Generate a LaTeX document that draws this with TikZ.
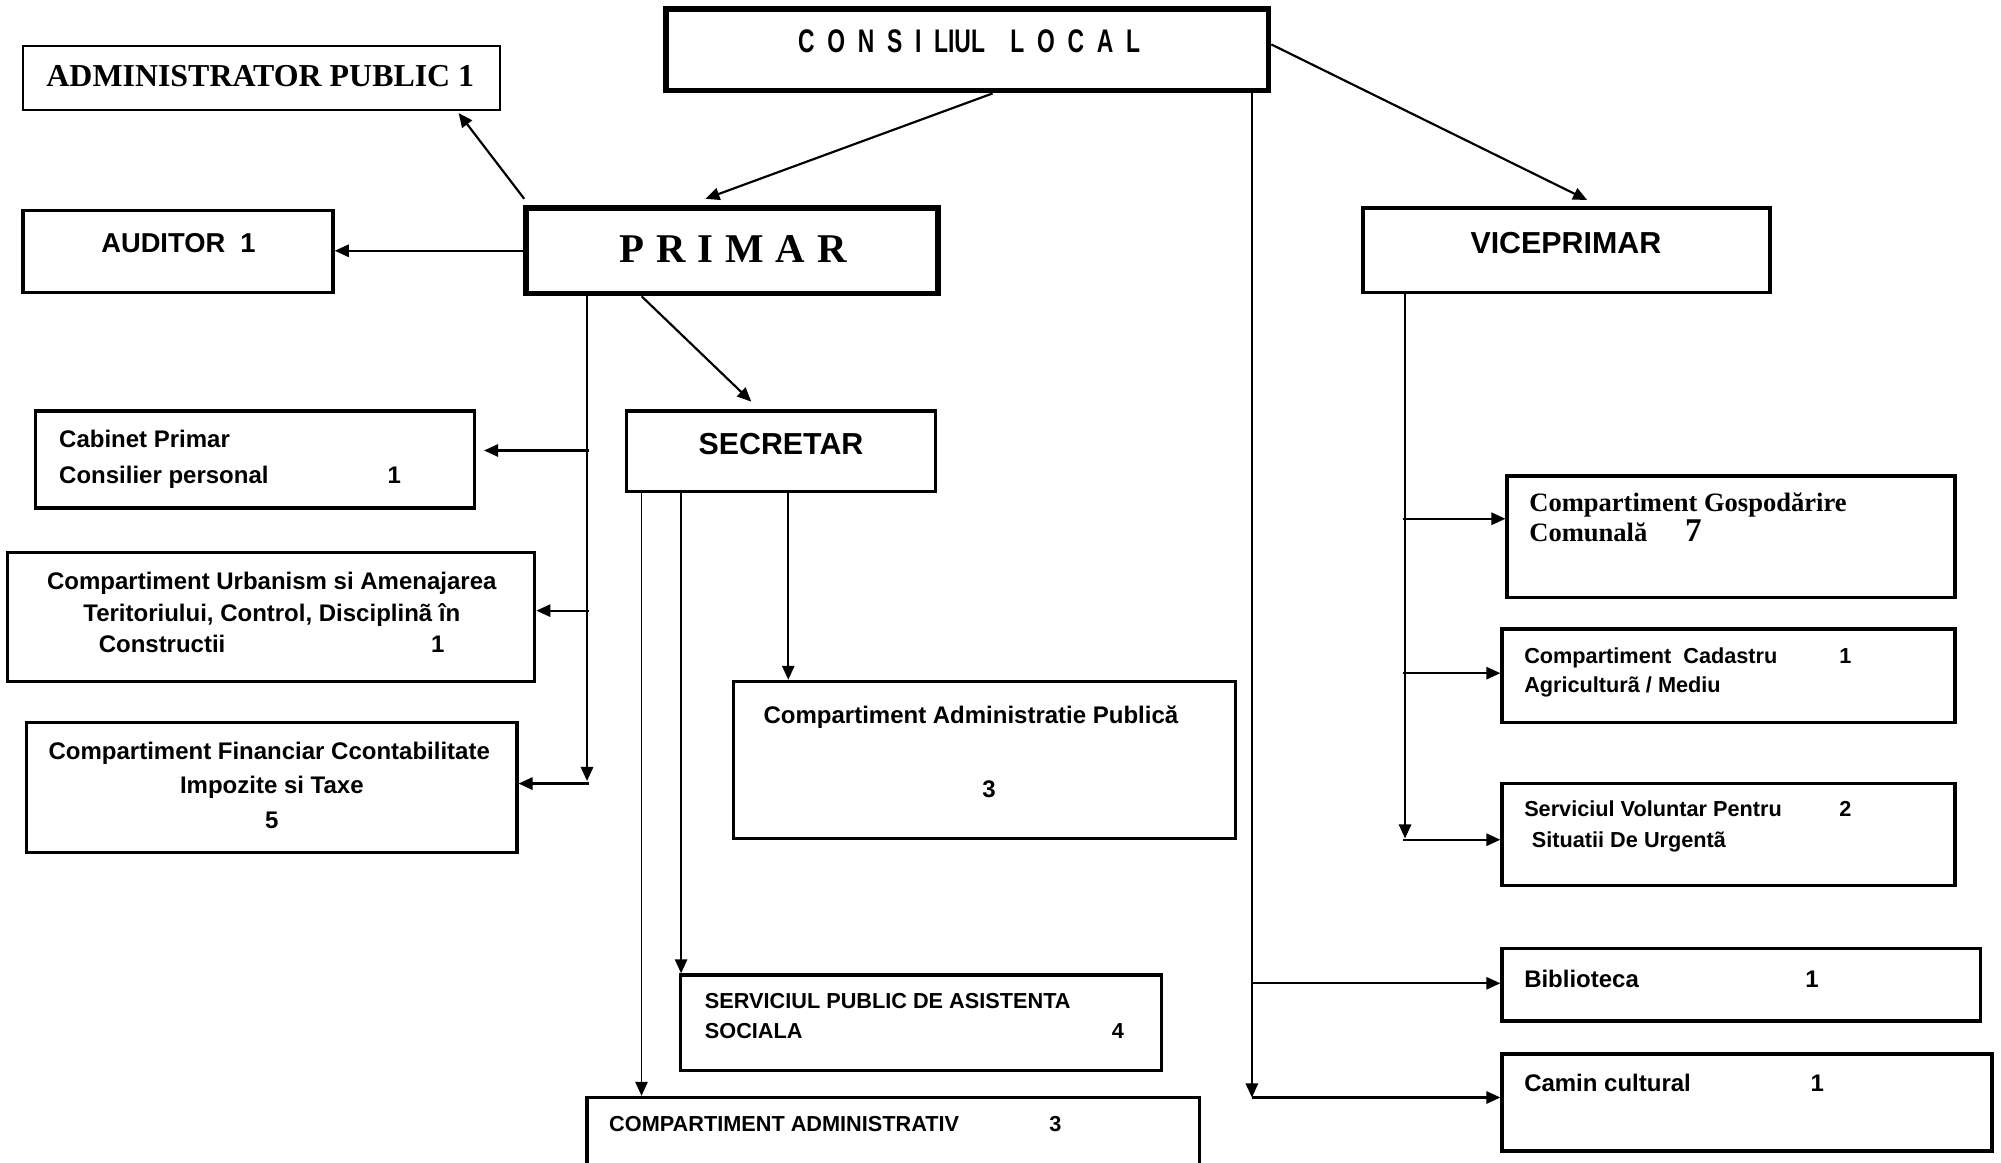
\documentclass[tikz,border=0pt]{standalone}
\usepackage{fontspec}
\setmainfont{Liberation Sans}
\newfontfamily\serf{Liberation Serif}
\newfontfamily\narf[FakeStretch=0.7]{Liberation Sans}
\usetikzlibrary{arrows.meta,calc,fit}
\begin{document}
\begin{tikzpicture}[x=0.5pt,y=-0.5pt,
  box/.style={draw, line width=1.3pt, inner sep=0pt},
  hbox/.style={box, line width=2.2pt},
  tbox/.style={box, line width=0.6pt},
  conn/.style={line width=0.85pt, -{Triangle[length=5.5pt,width=4.8pt]}},
  sl/.style={inner sep=0pt, font=\bfseries\fontsize{9.4pt}{11pt}\selectfont},
  ss/.style={inner sep=0pt, font=\bfseries\fontsize{8.5pt}{10pt}\selectfont},
  sb/.style={inner sep=0pt, font=\bfseries\fontsize{11.9pt}{14pt}\selectfont},
  tl/.style={inner sep=0pt, font=\serf\bfseries\fontsize{10.4pt}{12pt}\selectfont},
]
\useasboundingbox (0,0) rectangle (1568,911);

% boxes
\node[hbox, fit={(522,7)(994,71)}] (cons) {};
\node[tbox, fit={(18,36)(392,86)}] (admin) {};
\node[box, fit={(18,165)(261,229)}] (aud) {};
\node[hbox, fit={(412,163)(735,230)}] (primar) {};
\node[box, fit={(1068,163)(1387,229)}] (vice) {};
\node[box, fit={(28,322)(372,398)}] (cab) {};
\node[box, fit={(6,433)(419,534)}] (urb) {};
\node[box, fit={(21,566)(405,668)}] (fin) {};
\node[box, fit={(491,322)(733,385)}] (sec) {};
\node[box, fit={(575,534)(968,657)}] (adm) {};
\node[box, fit={(533,764)(910,839)}] (serv) {};
\begin{scope}
\clip (0,0) rectangle (1568,911);
\node[box, fit={(460,860)(940,930)}] (cadm) {};
\end{scope}
\node[box, fit={(1181,373)(1532,468)}] (gosp) {};
\node[box, fit={(1177,493)(1532,566)}] (cad) {};
\node[box, fit={(1177,614)(1532,694)}] (vol) {};
\node[box, fit={(1177,743)(1552,800)}] (bib) {};
\node[box, fit={(1177,826)(1561,902)}] (cam) {};

% texts
\node[inner sep=0pt, anchor=base west, font=\narf\bfseries\fontsize{12.8pt}{14pt}\selectfont] (tcons) at (625,41)
  {\makebox[134pt][s]{C O N S I LIUL\ \ L O C A L}};
\node[inner sep=0pt, anchor=base west, font=\serf\bfseries\fontsize{12.5pt}{14pt}\selectfont] (tadmin) at (36,68) {ADMINISTRATOR PUBLIC 1};
\node[inner sep=0pt, anchor=base west, font=\bfseries\fontsize{10.7pt}{12pt}\selectfont] (taud) at (79,198) {AUDITOR\ \ 1};
\node[inner sep=0pt, anchor=base west, font=\serf\bfseries\fontsize{16pt}{18pt}\selectfont] (tprimar) at (485,206)
  {\makebox[89pt][s]{P R I M A R}};
\node[sb, anchor=base] (tvice) at (1227,199) {VICEPRIMAR};
\node[sb, anchor=base] (tsec) at (612,356) {SECRETAR};

\node[sl, anchor=base west] (tcab1) at (46,351) {Cabinet Primar};
\node[sl, anchor=base west] (tcab2) at (46,379) {Consilier personal};
\node[sl, anchor=base] (tcab3) at (309,379) {1};

\node[sl, anchor=base] (turb1) at (213,462) {Compartiment Urbanism si Amenajarea};
\node[sl, anchor=base] (turb2) at (213,487) {Teritoriului, Control, Disciplinã în};
\node[sl, anchor=base west] (turb3) at (77,511) {Constructii};
\node[sl, anchor=base] (turb4) at (343,511) {1};

\node[sl, anchor=base] (tfin1) at (211,595) {Compartiment Financiar Ccontabilitate};
\node[sl, anchor=base] (tfin2) at (213,622) {Impozite si Taxe};
\node[sl, anchor=base] (tfin3) at (213,649) {5};

\node[sl, anchor=base west] (tadm1) at (598,567) {Compartiment Administratie Publică};
\node[sl, anchor=base] (tadm2) at (775,625) {3};

\node[ss, anchor=base west] (tserv1) at (552,790) {SERVICIUL PUBLIC DE ASISTENTA};
\node[ss, anchor=base west] (tserv2) at (552,814) {SOCIALA};
\node[ss, anchor=base] (tserv3) at (876,814) {4};

\node[ss, anchor=base west] (tcadm1) at (477,887) {COMPARTIMENT ADMINISTRATIV};
\node[ss, anchor=base] (tcadm2) at (827,887) {3};

\node[tl, anchor=base west] (tgosp1) at (1198,401) {Compartiment Gospodărire};
\node[tl, anchor=base west] (tgosp2) at (1198,424) {Comunală};
\node[inner sep=0pt, anchor=base, font=\serf\bfseries\fontsize{13pt}{15pt}\selectfont] (tgosp3) at (1327,424) {7};

\node[ss, anchor=base west] (tcad1) at (1194,520) {Compartiment\ \ Cadastru};
\node[ss, anchor=base] (tcad2) at (1446,520) {1};
\node[ss, anchor=base west] (tcad3) at (1194,543) {Agriculturã / Mediu};

\node[ss, anchor=base west] (tvol1) at (1194,640) {Serviciul Voluntar Pentru};
\node[ss, anchor=base] (tvol2) at (1446,640) {2};
\node[ss, anchor=base west] (tvol3) at (1200,664) {Situatii De Urgentã};

\node[sl, anchor=base west] (tbib1) at (1194,774) {Biblioteca};
\node[sl, anchor=base] (tbib2) at (1420,774) {1};
\node[sl, anchor=base west] (tcam1) at (1194,855) {Camin cultural};
\node[sl, anchor=base] (tcam2) at (1424,855) {1};

% bus end points
\coordinate (cbus) at (981,860);
\coordinate (pbus) at (460,612);
\coordinate (vbus) at (1101,657);

% connectors from CONSILIUL LOCAL
\draw[conn] ($(cons.south west)+(258,0)$) -- ($(primar.north west)+(143,-5)$);
\draw[conn] ($(cons.north east)+(0,30)$) -- ($(vice.north west)+(177,-5)$);
\draw[conn] (cons.south east -| cbus) -- (cbus);
\draw[conn] ($(cbus |- bib.west)+(0,-1)$) -- ($(bib.west)+(0,-1)$);
\draw[conn] (cbus) -- (cbus -| cam.west);

% connectors from PRIMAR
\draw[conn] ($(primar.north west)+(1,-5)$) -- ($(admin.south west)+(342,2)$);
\draw[conn] (primar.west) -- (primar.west -| aud.east);
\draw[conn] (primar.south west -| pbus) -- (pbus);
\draw[conn] ($(cab.east)+(88,-7)$) -- ($(cab.east)+(6,-7)$);
\draw[conn] ($(urb.east)+(41,-5)$) -- ($(urb.east)+(0,-5)$);
\draw[conn] ($(fin.east)+(55,-3)$) -- ($(fin.east)+(0,-3)$);
\draw[conn] ($(primar.south west)+(93,0)$) -- ($(sec.north west)+(99,-6)$);

% connectors from SECRETAR
\draw[conn, line width=0.75pt] ($(sec.south west)+(128,0)$) -- ($(adm.north west)+(44,0)$);
\draw[conn, line width=0.75pt] ($(sec.south west)+(44,0)$) -- ($(serv.north west)+(2,0)$);
\draw[conn, line width=0.75pt] ($(sec.south west)+(13,0)$) -- ($(cadm.north west)+(44,0)$);

% connectors from VICEPRIMAR
\draw[conn] (vice.south west -| vbus) -- (vbus);
\draw[conn] ($(gosp.west)+(-80,-14)$) -- ($(gosp.west)+(0,-14)$);
\draw[conn] ($(cad.west)+(-76,-2)$) -- ($(cad.west)+(0,-2)$);
\draw[conn] ($(vol.west)+(-76,4)$) -- ($(vol.west)+(0,4)$);
\end{tikzpicture}
\end{document}
